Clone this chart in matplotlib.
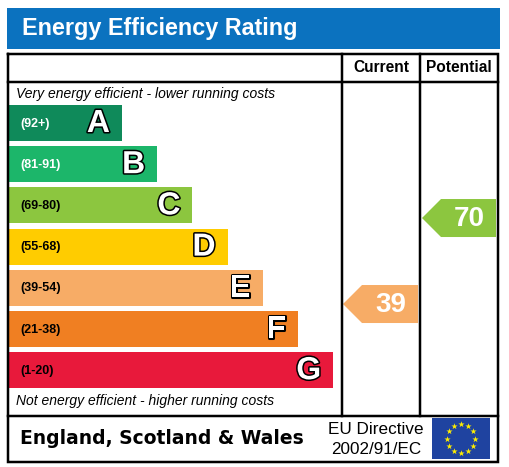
import numpy as np
import matplotlib
matplotlib.use("Agg")
import matplotlib.pyplot as plt
from matplotlib.patches import Rectangle, Polygon
import matplotlib.patheffects as pe

# ---- data ----
bands = ["A", "B", "C", "D", "E", "F", "G"]
band_ranges = ["(92+)", "(81-91)", "(69-80)", "(55-68)", "(39-54)", "(21-38)", "(1-20)"]
band_colors = ["#0f8a5a", "#1cb66a", "#8cc63f", "#ffcc00", "#f7ac66", "#f07f22", "#e8193b"]
range_text_colors = ["white", "white", "black", "black", "black", "black", "black"]
current_rating = 39
potential_rating = 70
title = "Energy Efficiency Rating"
col_headers = ["Current", "Potential"]
top_note = "Very energy efficient - lower running costs"
bottom_note = "Not energy efficient - higher running costs"
region = "England, Scotland & Wales"
directive = ["EU Directive", "2002/91/EC"]

def band_of(v):
    lows = [92, 81, 69, 55, 39, 21, 1]
    for i, lo in enumerate(lows):
        if v >= lo:
            return i
    return 6

W, H = 509, 467
fig = plt.figure(figsize=(W / 100, H / 100), dpi=100)
ax = fig.add_axes([0, 0, 1, 1])
ax.set_xlim(0, W)
ax.set_ylim(H, 0)
ax.axis("off")
font = "Liberation Sans"
px = 0.72  # points per pixel

# title banner
ax.add_patch(Rectangle((7, 8), 493, 41, facecolor="#0b72bf", edgecolor="none"))
ax.text(22, 29, title, color="white", fontsize=16.8, fontweight="bold",
        family=font, va="center", ha="left")

# frame
lw = 2.5 * px
x0, x1 = 8, 498
ytop, yhead, yfoot, ybot = 54, 82, 415.5, 462
colA, colB = 342, 420
ax.plot([x0, x1, x1, x0, x0], [ytop, ytop, ybot, ybot, ytop], color="black", lw=lw,
        solid_joinstyle="miter")
ax.plot([x0, x1], [yhead, yhead], color="black", lw=lw)
ax.plot([x0, x1], [yfoot, yfoot], color="black", lw=lw)
ax.plot([colA, colA], [ytop, yfoot], color="black", lw=lw)
ax.plot([colB, colB], [ytop, yfoot], color="black", lw=lw)

ax.text((colA + colB) / 2, 68, col_headers[0], fontsize=11.2, fontweight="bold",
        family=font, ha="center", va="center")
ax.text((colB + x1) / 2, 68, col_headers[1], fontsize=11.2, fontweight="bold",
        family=font, ha="center", va="center")

ax.text(16, 94, top_note, fontsize=10, style="italic", family=font, ha="left", va="center")
ax.text(16, 401, bottom_note, fontsize=10, style="italic", family=font, ha="left", va="center")

# bands
bar_left = 9
bar_top0 = 105
bar_step = 41.2
bar_h = 36
len0, len_step = 113, 35.2
for i, (b, r, c, tc) in enumerate(zip(bands, band_ranges, band_colors, range_text_colors)):
    y = bar_top0 + i * bar_step
    right = bar_left + len0 + i * len_step
    ax.add_patch(Rectangle((bar_left, y), right - bar_left, bar_h, facecolor=c, edgecolor="none"))
    ax.text(20, y + bar_h / 2 + 0.5, r, fontsize=9, fontweight="bold", family=font,
            color=tc, ha="left", va="center")
    ax.text(right - 12, y + bar_h / 2 + 1, b, fontsize=23, fontweight="bold", family=font,
            color="white", ha="right", va="center",
            path_effects=[pe.withStroke(linewidth=2.2, foreground="black")])

# rating arrows: vertical position by value
def y_of(v):
    return 412.2 - 2.774 * v

def arrow(v, xl, xr, color):
    yc = y_of(v)
    h = 38
    notch = 19
    pts = [(xl, yc), (xl + notch, yc - h / 2), (xr, yc - h / 2), (xr, yc + h / 2),
           (xl + notch, yc + h / 2)]
    ax.add_patch(Polygon(pts, closed=True, facecolor=color, edgecolor="none"))
    ax.text((xl + notch + xr) / 2 + 1, yc + 1, str(v), fontsize=20, fontweight="bold",
            family=font, color="white", ha="center", va="center")

arrow(current_rating, colA + 1, 418, band_colors[band_of(current_rating)])
arrow(potential_rating, colB + 2, 496, band_colors[band_of(potential_rating)])

# footer
ax.text(20, 438, region, fontsize=13.5, fontweight="bold", family="DejaVu Sans",
        ha="left", va="center")
ax.text(376, 429, directive[0], fontsize=12.3, family=font, ha="center", va="center")
ax.text(376, 449, directive[1], fontsize=12.3, family=font, ha="center", va="center")

# EU flag
ax.add_patch(Rectangle((432, 418), 58, 41, facecolor="#1f43a0", edgecolor="none"))
ang = np.linspace(0, 2 * np.pi, 12, endpoint=False)
ax.scatter(461 + 14 * np.cos(ang), 438.5 + 14.5 * np.sin(ang), marker="*", s=22,
           color="#ffee00", linewidths=0)

fig.savefig("out.png", dpi=100)
